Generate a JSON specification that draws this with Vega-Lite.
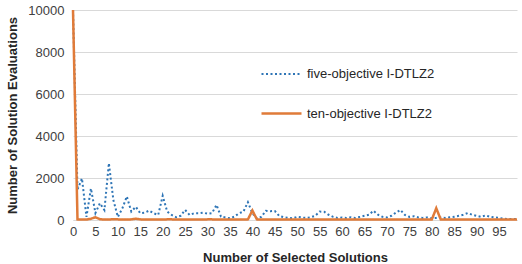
{
  "$schema": "https://vega.github.io/schema/vega-lite/v6.json",
  "width": 444,
  "height": 210,
  "autosize": "none",
  "padding": {"left": 73, "top": 10, "right": 5, "bottom": 44},
  "background": "white",
  "config": {"font": "Liberation Sans", "view": {"stroke": null}},
  "data": {"values": [
    {"n":0,"five":10000,"ten":10000},{"n":1,"five":1450,"ten":30},{"n":2,"five":1980,"ten":20},{"n":3,"five":150,"ten":20},{"n":4,"five":1500,"ten":60},
    {"n":5,"five":330,"ten":130},{"n":6,"five":800,"ten":40},{"n":7,"five":470,"ten":20},{"n":8,"five":2700,"ten":20},{"n":9,"five":950,"ten":40},
    {"n":10,"five":150,"ten":30},{"n":11,"five":550,"ten":20},{"n":12,"five":1120,"ten":20},{"n":13,"five":400,"ten":30},{"n":14,"five":630,"ten":60},
    {"n":15,"five":320,"ten":30},{"n":16,"five":350,"ten":20},{"n":17,"five":450,"ten":20},{"n":18,"five":320,"ten":20},{"n":19,"five":240,"ten":20},
    {"n":20,"five":1150,"ten":20},{"n":21,"five":400,"ten":30},{"n":22,"five":240,"ten":30},{"n":23,"five":130,"ten":20},{"n":24,"five":200,"ten":20},
    {"n":25,"five":480,"ten":20},{"n":26,"five":240,"ten":20},{"n":27,"five":320,"ten":20},{"n":28,"five":320,"ten":20},{"n":29,"five":350,"ten":20},
    {"n":30,"five":300,"ten":30},{"n":31,"five":330,"ten":30},{"n":32,"five":720,"ten":20},{"n":33,"five":160,"ten":20},{"n":34,"five":120,"ten":20},
    {"n":35,"five":80,"ten":20},{"n":36,"five":160,"ten":20},{"n":37,"five":320,"ten":20},{"n":38,"five":400,"ten":20},{"n":39,"five":850,"ten":30},
    {"n":40,"five":320,"ten":450},{"n":41,"five":80,"ten":30},{"n":42,"five":150,"ten":20},{"n":43,"five":440,"ten":20},{"n":44,"five":420,"ten":20},
    {"n":45,"five":430,"ten":20},{"n":46,"five":190,"ten":20},{"n":47,"five":130,"ten":20},{"n":48,"five":100,"ten":20},{"n":49,"five":80,"ten":20},
    {"n":50,"five":150,"ten":20},{"n":51,"five":120,"ten":20},{"n":52,"five":100,"ten":20},{"n":53,"five":130,"ten":20},{"n":54,"five":200,"ten":20},
    {"n":55,"five":400,"ten":20},{"n":56,"five":390,"ten":20},{"n":57,"five":250,"ten":20},{"n":58,"five":150,"ten":20},{"n":59,"five":100,"ten":20},
    {"n":60,"five":120,"ten":20},{"n":61,"five":100,"ten":20},{"n":62,"five":130,"ten":20},{"n":63,"five":100,"ten":20},{"n":64,"five":150,"ten":20},
    {"n":65,"five":200,"ten":20},{"n":66,"five":250,"ten":20},{"n":67,"five":440,"ten":20},{"n":68,"five":250,"ten":20},{"n":69,"five":150,"ten":20},
    {"n":70,"five":120,"ten":20},{"n":71,"five":200,"ten":20},{"n":72,"five":350,"ten":20},{"n":73,"five":480,"ten":20},{"n":74,"five":240,"ten":20},
    {"n":75,"five":150,"ten":20},{"n":76,"five":180,"ten":20},{"n":77,"five":120,"ten":20},{"n":78,"five":100,"ten":20},{"n":79,"five":120,"ten":20},
    {"n":80,"five":80,"ten":20},{"n":81,"five":100,"ten":560},{"n":82,"five":120,"ten":20},{"n":83,"five":100,"ten":20},{"n":84,"five":130,"ten":20},
    {"n":85,"five":150,"ten":20},{"n":86,"five":200,"ten":20},{"n":87,"five":250,"ten":20},{"n":88,"five":330,"ten":20},{"n":89,"five":250,"ten":20},
    {"n":90,"five":200,"ten":20},{"n":91,"five":150,"ten":20},{"n":92,"five":220,"ten":20},{"n":93,"five":150,"ten":20},{"n":94,"five":120,"ten":20},
    {"n":95,"five":100,"ten":20},{"n":96,"five":60,"ten":20},{"n":97,"five":50,"ten":20},{"n":98,"five":50,"ten":20},{"n":99,"five":40,"ten":20}
  ]},
  "transform": [{"fold": ["five", "ten"], "as": ["series", "value"]}],
  "mark": {"type": "line", "strokeCap": "butt"},
  "encoding": {
    "x": {
      "field": "n", "type": "quantitative",
      "scale": {"domain": [0, 99], "nice": false, "zero": false},
      "axis": {
        "values": [0,5,10,15,20,25,30,35,40,45,50,55,60,65,70,75,80,85,90,95],
        "title": "Number of Selected Solutions",
        "grid": false, "ticks": false, "domainColor": "#d9d9d9", "domainWidth": 1,
        "labelFontSize": 13, "labelColor": "#404040", "labelPadding": 5,
        "labelFlush": false, "labelOverlap": false,
        "titleFontSize": 13, "titleFontWeight": "bold", "titleColor": "#262626",
        "titleX": 222, "titleY": 37, "titleBaseline": "middle", "titleAlign": "center"
      }
    },
    "y": {
      "field": "value", "type": "quantitative",
      "scale": {"domain": [0, 10000], "nice": false},
      "axis": {
        "values": [0, 2000, 4000, 6000, 8000, 10000],
        "format": "d",
        "title": "Number of Solution Evaluations",
        "grid": true, "gridColor": "#d9d9d9", "gridWidth": 1,
        "domain": false, "ticks": false,
        "labelFontSize": 13, "labelColor": "#404040", "labelPadding": 9,
        "titleFontSize": 13, "titleFontWeight": "bold", "titleColor": "#262626",
        "titleX": -61, "titleY": 105, "titleAngle": -90, "titleBaseline": "middle", "titleAlign": "center"
      }
    },
    "color": {
      "field": "series", "type": "nominal",
      "scale": {"domain": ["five", "ten"], "range": ["#2e75b6", "#e07b39"]},
      "legend": {
        "title": null, "orient": "none", "legendX": 187, "legendY": 43,
        "symbolType": "stroke", "symbolSize": 1600, "symbolStrokeWidth": 2,
        "labelFontSize": 13, "labelColor": "#262626", "labelOffset": 4, "rowPadding": 11,
        "labelExpr": "datum.label == 'five' ? 'five-objective I-DTLZ2' : 'ten-objective I-DTLZ2'"
      }
    },
    "strokeDash": {
      "field": "series", "type": "nominal",
      "scale": {"domain": ["five", "ten"], "range": [[2, 2.5], [1, 0]]},
      "legend": {
        "title": null, "orient": "none", "legendX": 187, "legendY": 43,
        "symbolType": "stroke", "symbolSize": 1600, "symbolStrokeWidth": 2,
        "labelFontSize": 13, "labelColor": "#262626", "labelOffset": 4, "rowPadding": 11,
        "labelExpr": "datum.label == 'five' ? 'five-objective I-DTLZ2' : 'ten-objective I-DTLZ2'"
      }
    },
    "strokeWidth": {
      "field": "series", "type": "nominal",
      "scale": {"domain": ["five", "ten"], "range": [2, 2.5]},
      "legend": null
    }
  }
}
